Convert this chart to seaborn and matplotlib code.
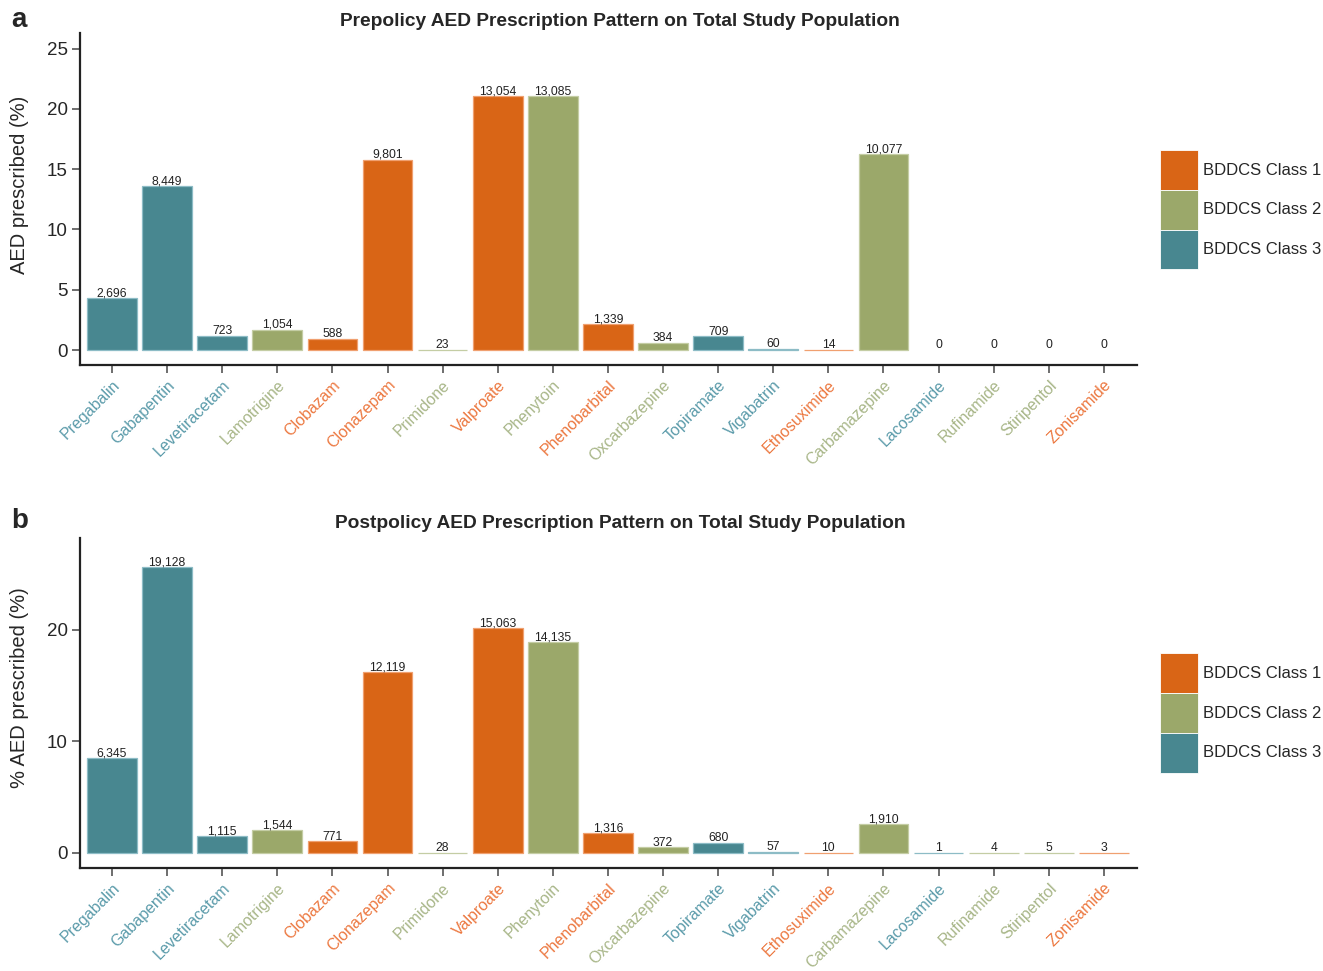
import matplotlib
matplotlib.use("Agg")
import matplotlib.pyplot as plt
from matplotlib.patches import Patch
import numpy as np
import pandas as pd
import seaborn as sns

drugs = ["Pregabalin", "Gabapentin", "Levetiracetam", "Lamotrigine", "Clobazam",
         "Clonazepam", "Primidone", "Valproate", "Phenytoin", "Phenobarbital",
         "Oxcarbazepine", "Topiramate", "Vigabatrin", "Ethosuximide",
         "Carbamazepine", "Lacosamide", "Rufinamide", "Stiripentol", "Zonisamide"]
bddcs_class = [3, 3, 3, 2, 1, 1, 2, 1, 2, 1, 2, 3, 3, 1, 2, 3, 2, 2, 1]

pre_counts = [2696, 8449, 723, 1054, 588, 9801, 23, 13054, 13085, 1339,
              384, 709, 60, 14, 10077, 0, 0, 0, 0]
post_counts = [6345, 19128, 1115, 1544, 771, 12119, 28, 15063, 14135, 1316,
               372, 680, 57, 10, 1910, 1, 4, 5, 3]

class_names = ["BDDCS Class 1", "BDDCS Class 2", "BDDCS Class 3"]
bar_colors = {1: "#D96516", 2: "#9BA86A", 3: "#488790"}
label_colors = {1: "#EC7840", 2: "#A8B688", 3: "#5B9BAA"}
edge_colors = {1: "#F0A070", 2: "#C4CDA4", 3: "#8DBCC6"}

sns.set_style("white")
plt.rcParams["font.family"] = ["Liberation Sans", "DejaVu Sans"]

fig = plt.figure(figsize=(13.23, 9.71), dpi=100)


def draw_panel(ax, counts, title, ylabel, yticks, ylim, letter, title_y,
               letter_y, legend_y, ylabel_y):
    counts = np.array(counts, dtype=float)
    pct = counts / counts.sum() * 100
    df = pd.DataFrame({"drug": drugs, "pct": pct,
                       "cls": [f"BDDCS Class {c}" for c in bddcs_class]})
    palette = {f"BDDCS Class {k}": v for k, v in bar_colors.items()}
    sns.barplot(data=df, x="drug", y="pct", hue="cls", hue_order=class_names,
                palette=palette, dodge=False, width=0.9, saturation=1,
                order=drugs, legend=False, ax=ax)

    # count labels above each bar, light outline so very small shares stay visible
    for patch in ax.patches:
        if patch.get_width() == 0 or np.isnan(patch.get_height()):
            continue
        cx = patch.get_x() + patch.get_width() / 2
        idx = int(round(cx))
        if counts[idx] > 0:
            patch.set_edgecolor(edge_colors[bddcs_class[idx]])
            patch.set_linewidth(0.9)
        ax.annotate(f"{int(counts[idx]):,}", xy=(cx, patch.get_height()),
                    xytext=(0, 1.2), textcoords="offset points",
                    ha="center", va="baseline", fontsize=8.7, color="#222222",
                    family=["Liberation Sans Narrow", "Liberation Sans"])

    ax.set_xlim(-0.58, 18.6)
    ax.set_ylim(*ylim)
    ax.set_yticks(yticks)
    ax.set_xlabel("")
    ax.set_ylabel(ylabel, fontsize=14.5)
    ax.yaxis.set_label_coords(-0.048, ylabel_y)
    for s in ["top", "right"]:
        ax.spines[s].set_visible(False)
    for s in ["left", "bottom"]:
        ax.spines[s].set_color("#222222")
        ax.spines[s].set_linewidth(1.6)
    ax.tick_params(axis="both", which="major", direction="out", length=6,
                   width=1.2, color="#555555", bottom=True, left=True)
    ax.tick_params(axis="y", labelsize=13.5, pad=3)
    ax.tick_params(axis="x", labelsize=11.5, pad=3)
    ax.set_xticks(range(len(drugs)))
    ax.set_xticklabels(drugs, rotation=45, ha="right", rotation_mode="anchor")
    for tl, c in zip(ax.get_xticklabels(), bddcs_class):
        tl.set_color(label_colors[c])

    fig.text(620 / 1323, title_y, title, ha="center", va="center",
             fontsize=13.8, fontweight="bold")
    fig.text(11 / 1323, letter_y, letter, ha="left", va="center",
             fontsize=20, fontweight="bold")

    handles = [Patch(facecolor=bar_colors[k], edgecolor="white", linewidth=0.6)
               for k in (1, 2, 3)]
    fig.legend(handles, class_names, loc="upper left",
               bbox_to_anchor=(1160 / 1323, legend_y), frameon=False,
               fontsize=12, handlelength=2.3, handleheight=3.3,
               labelspacing=0.0, handletextpad=0.3, borderpad=0,
               borderaxespad=0)


ax_a = fig.add_axes([80 / 1323, 1 - 365 / 971, 1057 / 1323, 332 / 971])
draw_panel(ax_a, pre_counts,
           "Prepolicy AED Prescription Pattern on Total Study Population",
           "AED prescribed (%)", [0, 5, 10, 15, 20, 25], (-1.24, 26.3),
           "a", 1 - 22 / 971, 1 - 20 / 971, 1 - 150 / 971, 0.542)

ax_b = fig.add_axes([80 / 1323, 1 - 868 / 971, 1057 / 1323, 330 / 971])
draw_panel(ax_b, post_counts,
           "Postpolicy AED Prescription Pattern on Total Study Population",
           "% AED prescribed (%)", [0, 10, 20], (-1.35, 28.25),
           "b", 1 - 523 / 971, 1 - 521 / 971, 1 - 653 / 971, 0.548)

fig.savefig("out.png", dpi=100, facecolor="white")
